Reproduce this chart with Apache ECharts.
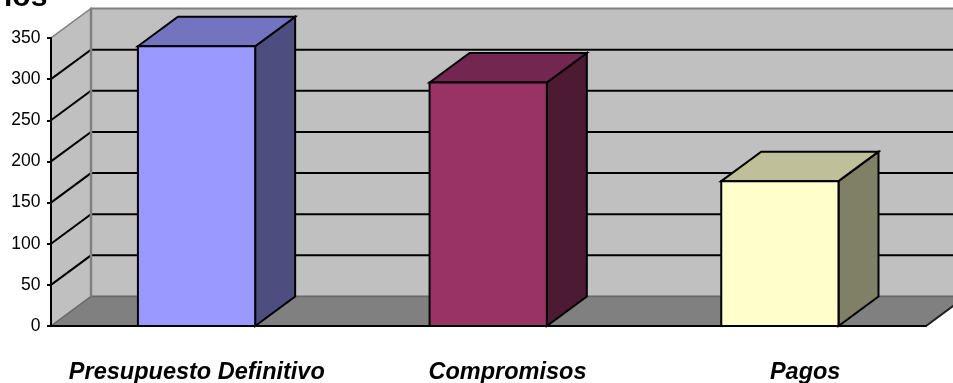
<!DOCTYPE html>
<html><head><meta charset="utf-8">
<style>html,body{margin:0;padding:0;background:#fff}#c{width:953px;height:383px}</style>
<script src="https://cdn.jsdelivr.net/npm/echarts@6/dist/echarts.min.js"></script>
</head><body><div id="c"></div>
<script>
const categories = ['Presupuesto Definitivo', 'Compromisos', 'Pagos'];
const values = [340, 296, 176];
const yTicks = [50, 100, 150, 200, 250, 300];
const frontColors = ['#9999ff', '#993366', '#ffffcc'];
const topColors = ['#7373bf', '#732650', '#bfbf99'];
const sideColors = ['#4d4d80', '#4d1a33', '#808066'];
const labelPadLeft = [0, 38, 50];
const titleText = 'ios';

const DX = 40, DY = 29.5;
const poly = (pts, fill, stroke, lw) => ({
  type: 'polygon', shape: { points: pts },
  style: { fill: fill, stroke: stroke, lineWidth: lw, lineJoin: 'miter' }
});
const line = (a, b, stroke, lw) => ({
  type: 'line', shape: { x1: a[0], y1: a[1], x2: b[0], y2: b[1] },
  style: { stroke: stroke, lineWidth: lw, fill: null }
});
const labelFont = { fontFamily: 'Liberation Sans', fontWeight: 'bold', fontStyle: 'italic', fontSize: 23.5, color: '#000' };

const chart = echarts.init(document.getElementById('c'), null, { renderer: 'canvas' });
chart.setOption({
  animation: false,
  backgroundColor: '#fff',
  title: {
    text: titleText, left: -1, top: -22,
    textStyle: { fontFamily: 'Liberation Sans', fontWeight: 'bold', fontSize: 30, color: '#000' }
  },
  grid: { left: 51, right: 27, top: 38, bottom: 57, containLabel: false, outerBoundsMode: 'none' },
  xAxis: {
    type: 'category', data: categories, z: 4,
    axisLine: { lineStyle: { color: '#000', width: 2 } },
    axisTick: { show: false },
    axisLabel: {
      margin: 35, interval: 0,
      formatter: (v, i) => `{c${i}|${v}}`,
      rich: {
        c0: { ...labelFont, padding: [0, 0, 0, labelPadLeft[0]] },
        c1: { ...labelFont, padding: [0, 0, 0, labelPadLeft[1]] },
        c2: { ...labelFont, padding: [0, 0, 0, labelPadLeft[2]] }
      }
    }
  },
  yAxis: {
    type: 'value', min: 0, max: 350, interval: 50, z: 4,
    axisLine: { show: true, lineStyle: { color: '#000', width: 2 } },
    axisTick: { show: true, length: 4, lineStyle: { color: '#000', width: 2 } },
    axisLabel: { margin: 10.5, color: '#000', fontFamily: 'Liberation Sans', fontSize: 17.5 },
    splitLine: { show: false }
  },
  series: [
    {
      type: 'custom', name: 'walls', silent: true, clip: false, z: 1,
      data: [[0, 0]],
      renderItem: (params) => {
        const c = params.coordSys;
        const x = c.x, y = c.y, w = c.width, h = c.height, b = y + h, r = x + w;
        return { type: 'group', children: [
          poly([[x + DX, y - DY], [r + DX, y - DY], [r + DX, b - DY], [x + DX, b - DY]], '#c0c0c0', '#808080', 2),
          poly([[x, b], [x, y], [x + DX, y - DY], [x + DX, b - DY]], '#c0c0c0', '#808080', 1.5),
          poly([[x, b], [x + DX, b - DY], [r + DX, b - DY], [r, b]], '#808080', '#696969', 1.5),
          line([r, b], [r + DX, b - DY], '#222', 2)
        ] };
      }
    },
    {
      type: 'custom', name: 'gridlines', silent: true, clip: false, z: 2,
      data: yTicks.map(v => [0, v]),
      encode: { y: 1 },
      renderItem: (params, api) => {
        const c = params.coordSys;
        const y = api.coord([0, api.value(1)])[1];
        return { type: 'polyline', shape: { points: [[c.x, y], [c.x + DX, y - DY], [c.x + c.width + DX, y - DY]] },
          style: { stroke: '#000', lineWidth: 2, fill: null } };
      }
    },
    {
      type: 'custom', name: 'backEdge', silent: true, clip: false, z: 2,
      data: [[0, 0]],
      renderItem: (params) => {
        const c = params.coordSys;
        return line([c.x + DX, c.y - DY], [c.x + DX, c.y + c.height - DY], '#808080', 2.5);
      }
    },
    {
      type: 'custom', name: 'bars', clip: false, z: 3,
      data: values.map((v, i) => [i, v]),
      encode: { x: 0, y: 1 },
      renderItem: (params, api) => {
        const i = params.dataIndex;
        const top = api.coord([api.value(0), api.value(1)]);
        const base = api.coord([api.value(0), 0]);
        const half = api.size([1, 0])[0] * 0.402 / 2;
        const l = top[0] - half - 0.3, r = top[0] + half - 0.3, t = top[1], b = base[1];
        return { type: 'group', children: [
          poly([[r, t], [r + DX, t - DY], [r + DX, b - DY], [r, b]], sideColors[i], '#000', 2),
          poly([[l, t], [l + DX, t - DY], [r + DX, t - DY], [r, t]], topColors[i], '#000', 2),
          poly([[l, t], [r, t], [r, b], [l, b]], frontColors[i], '#000', 2)
        ] };
      }
    }
  ]
});
</script></body></html>
